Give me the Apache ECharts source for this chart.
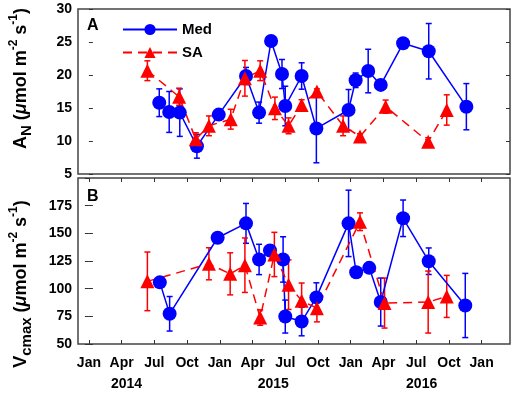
<!DOCTYPE html>
<html>
<head>
<meta charset="utf-8">
<script src="https://cdn.jsdelivr.net/npm/echarts@6/dist/echarts.min.js"></script>
<style>
html, body { margin: 0; padding: 0; background: #fff; }
#chart { width: 517px; height: 393px; }
</style>
</head>
<body>
<div id="chart"></div>
<script>
// x values are months counted from Jan 2014 (0 = Jan 2014)
var monthTicks = [0, 3, 6, 9, 12, 15, 18, 21, 24, 27, 30, 33, 36];
var monthLabels = ['Jan', 'Apr', 'Jul', 'Oct'];
var yearPos = [3.45, 16.9, 30.5];
var yearLabels = ['2014', '2015', '2016'];

// panel A: A_N
var medAX = [6.45, 7.36, 8.33, 9.9, 11.9, 14.4, 15.6, 16.7, 17.7, 18.0, 19.5, 20.85, 23.8, 24.45, 25.6, 26.75, 28.8, 31.15, 34.6];
var medA = [15.8, 14.4, 14.3, 9.2, 14.0, 19.85, 14.3, 25.15, 20.15, 15.3, 19.85, 11.9, 14.7, 19.2, 20.6, 18.5, 24.8, 23.6, 15.2];
var medAErr = [2.1, 3.1, 3.6, 1.8, 0.3, 1.3, 1.6, 0.4, 2.2, 3.0, 2.0, 5.2, 3.1, 1.1, 3.3, 0.3, 0.3, 4.2, 3.5];

var saAX = [5.36, 8.27, 9.8, 11.0, 13.0, 14.3, 15.7, 17.05, 18.3, 19.5, 20.9, 23.3, 24.85, 27.2, 31.1, 32.8];
var saA = [20.65, 16.7, 10.25, 12.3, 13.3, 19.5, 20.65, 14.95, 12.3, 15.45, 17.5, 12.3, 10.7, 15.2, 9.9, 14.7];
var saAErr = [1.5, 1.3, 1.0, 1.5, 1.5, 2.7, 1.5, 1.7, 1.2, 0.8, 0.4, 1.5, 0.4, 1.0, 0.6, 2.3];

// panel B: Vcmax
var medBX = [6.5, 7.4, 11.8, 14.4, 15.6, 16.6, 17.8, 18.0, 19.5, 20.85, 23.8, 24.5, 25.7, 26.75, 28.8, 31.15, 34.5];
var medB = [105.7, 77.3, 146, 159, 126.4, 134.5, 126.4, 74.8, 70.3, 92.1, 159, 114.8, 118.8, 87.9, 163.6, 124.8, 84.8];
var medBErr = [2, 15.6, 2, 18, 13.7, 2, 20.5, 14.9, 12.9, 13.2, 30, 5, 2, 21.7, 16.5, 12, 29];

var saBX = [5.36, 11.0, 12.95, 14.3, 15.7, 17.0, 18.3, 19.5, 20.9, 24.85, 27.1, 31.1, 32.8];
var saB = [106.6, 122.5, 113.4, 121.2, 73.9, 130.9, 103.6, 89.1, 82.4, 160.5, 87, 87.9, 93];
var saBErr = [26.5, 14.5, 19, 24.6, 7, 20, 22.4, 16, 12.4, 8, 22.6, 28, 19];

var FONT = 'Liberation Sans';
var BLUE = '#0000ff';
var RED = '#ff0000';

function pts(xs, ys) {
    return xs.map(function (x, i) { return [x, ys[i]]; });
}
function errs(xs, ys, es) {
    return xs.map(function (x, i) { return [x, ys[i] - es[i], ys[i] + es[i]]; });
}

function renderErr(params, api) {
    var x = api.value(0);
    var top = api.coord([x, api.value(2)]);
    var bot = api.coord([x, api.value(1)]);
    var w = 3;
    var style = { stroke: api.visual('color'), lineWidth: 1.5 };
    return {
        type: 'group',
        children: [
            { type: 'line', shape: { x1: top[0], y1: top[1], x2: bot[0], y2: bot[1] }, style: style },
            { type: 'line', shape: { x1: top[0] - w, y1: top[1], x2: top[0] + w, y2: top[1] }, style: style },
            { type: 'line', shape: { x1: bot[0] - w, y1: bot[1], x2: bot[0] + w, y2: bot[1] }, style: style }
        ]
    };
}

function errSeries(name, data, color, gi) {
    return {
        type: 'custom',
        name: name,
        xAxisIndex: gi === 0 ? 0 : 1,
        yAxisIndex: gi === 0 ? 0 : 2,
        renderItem: renderErr,
        itemStyle: { color: color },
        encode: { x: 0, y: [1, 2] },
        data: data,
        z: 2
    };
}

function lineSeries(name, data, gi, isSA) {
    return {
        type: 'line',
        name: name,
        xAxisIndex: gi === 0 ? 0 : 1,
        yAxisIndex: gi === 0 ? 0 : 2,
        symbol: isSA ? 'triangle' : 'circle',
        symbolSize: 14,
        showAllSymbol: true,
        color: isSA ? RED : BLUE,
        lineStyle: { width: 1.5, type: isSA ? [9, 6] : 'solid', color: isSA ? RED : BLUE },
        itemStyle: { color: isSA ? RED : BLUE },
        data: data,
        z: 3
    };
}

var axisNameRich = {
    b: { fontSize: 18, fontWeight: 'bold', fontFamily: FONT, color: '#000', lineHeight: 26 },
    i: { fontSize: 18, fontWeight: 'bold', fontStyle: 'italic', fontFamily: FONT, color: '#000', lineHeight: 26 },
    sub: { fontSize: 15, fontWeight: 'bold', fontFamily: FONT, color: '#000', verticalAlign: 'bottom', lineHeight: 26 },
    sup: { fontSize: 12, fontWeight: 'bold', fontFamily: FONT, color: '#000', verticalAlign: 'top', lineHeight: 26 }
};

var labelStyle = { fontSize: 14, fontWeight: 'bold', fontFamily: FONT, color: '#000' };
var tickStyle = { show: true, inside: true, length: 4, lineStyle: { color: '#333', width: 1 } };

var chart = echarts.init(document.getElementById('chart'));
chart.setOption({
    animation: false,
    title: [
        { text: 'A', left: 82, top: 13, textStyle: { fontSize: 16, fontWeight: 'bold', fontFamily: FONT, color: '#000' } },
        { text: 'B', left: 82, top: 184, textStyle: { fontSize: 16, fontWeight: 'bold', fontFamily: FONT, color: '#000' } }
    ],
    legend: {
        data: ['Med', 'SA'],
        orient: 'vertical',
        left: 117,
        top: 17,
        itemWidth: 54,
        itemHeight: 14,
        itemGap: 8,
        textStyle: { fontSize: 15, fontWeight: 'bold', fontFamily: FONT, color: '#000' }
    },
    grid: [
        { left: 74, right: 7, top: 9, height: 165, show: true, borderColor: '#444', borderWidth: 1.5 },
        { left: 74, right: 7, top: 178, height: 166, show: true, borderColor: '#444', borderWidth: 1.5 }
    ],
    xAxis: [
        { type: 'value', gridIndex: 0, min: -1, max: 38.6, axisLine: { show: false }, axisTick: { show: false }, axisLabel: { show: false }, splitLine: { show: false } },
        {
            type: 'value', gridIndex: 1, min: -1, max: 38.6, position: 'bottom',
            axisLine: { show: false }, splitLine: { show: false },
            axisTick: Object.assign({ customValues: monthTicks }, tickStyle),
            axisLabel: Object.assign({
                customValues: monthTicks, margin: 12,
                formatter: function (v) { return monthLabels[Math.round(v / 3) % 4]; }
            }, labelStyle)
        },
        {
            type: 'value', gridIndex: 1, min: -1, max: 38.6, position: 'top',
            axisLine: { show: false }, splitLine: { show: false }, axisLabel: { show: false },
            axisTick: Object.assign({ customValues: monthTicks }, tickStyle)
        },
        {
            type: 'value', gridIndex: 1, min: -1, max: 38.6, position: 'bottom', offset: 24,
            axisLine: { show: false }, splitLine: { show: false }, axisTick: { show: false },
            axisLabel: Object.assign({
                customValues: yearPos, margin: 9,
                formatter: function (v) { return yearLabels[yearPos.indexOf(v)]; }
            }, labelStyle)
        }
    ],
    yAxis: [
        {
            type: 'value', gridIndex: 0, min: 5, max: 30, interval: 5,
            axisLine: { show: false }, splitLine: { show: false },
            axisTick: tickStyle,
            axisLabel: Object.assign({ margin: 6 }, labelStyle),
            name: '{b|A}{sub|N}{b| (}{i|μ}{b|mol m}{sup|-2}{b| s}{sup|-1}{b|)}',
            nameLocation: 'middle', nameGap: 44,
            nameTextStyle: { rich: axisNameRich, padding: [0, 0, 0, 26] }
        },
        {
            type: 'value', gridIndex: 0, min: 5, max: 30, interval: 5, position: 'right',
            axisLine: { show: false }, splitLine: { show: false }, axisLabel: { show: false },
            axisTick: tickStyle
        },
        {
            type: 'value', gridIndex: 1, min: 50, max: 200, interval: 25,
            axisLine: { show: false }, splitLine: { show: false },
            axisTick: tickStyle,
            axisLabel: Object.assign({ margin: 6, showMaxLabel: false }, labelStyle),
            name: '{b|V}{sub|cmax}{b| (}{i|μ}{b|mol m}{sup|-2}{b| s}{sup|-1}{b|)}',
            nameLocation: 'middle', nameGap: 44,
            nameTextStyle: { rich: axisNameRich, padding: [0, 46, 0, 0] }
        },
        {
            type: 'value', gridIndex: 1, min: 50, max: 200, interval: 25, position: 'right',
            axisLine: { show: false }, splitLine: { show: false }, axisLabel: { show: false },
            axisTick: tickStyle
        }
    ],
    series: [
        errSeries('medAErr', errs(medAX, medA, medAErr), BLUE, 0),
        errSeries('saAErr', errs(saAX, saA, saAErr), RED, 0),
        errSeries('medBErr', errs(medBX, medB, medBErr), BLUE, 1),
        errSeries('saBErr', errs(saBX, saB, saBErr), RED, 1),
        lineSeries('Med', pts(medAX, medA), 0, false),
        lineSeries('SA', pts(saAX, saA), 0, true),
        lineSeries('Med', pts(medBX, medB), 1, false),
        lineSeries('SA', pts(saBX, saB), 1, true)
    ]
});
</script>
</body>
</html>
